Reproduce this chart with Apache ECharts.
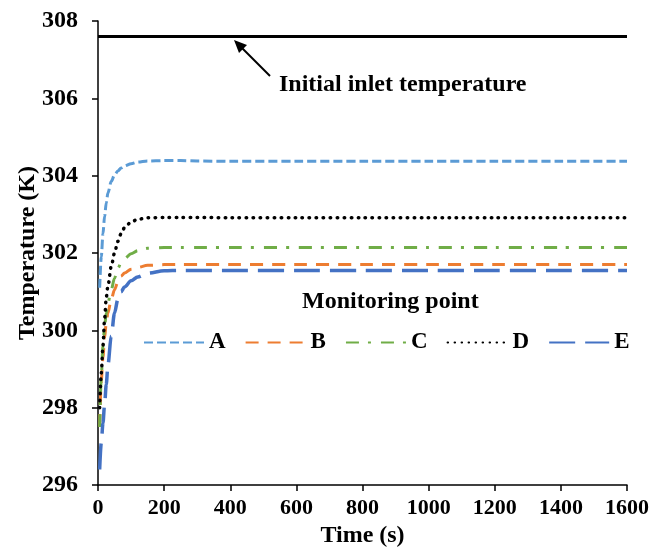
<!DOCTYPE html>
<html>
<head>
<meta charset="utf-8">
<script src="https://cdn.jsdelivr.net/npm/echarts@6/dist/echarts.min.js"></script>
<style>
  html, body { margin: 0; padding: 0; background: #fff; }
  #main { width: 655px; height: 547px; }
</style>
</head>
<body>
<div id="main"></div>
<script>
var times = [5, 10, 15, 20, 25, 30, 40, 50, 60, 70, 80, 100, 120, 150, 200, 250, 300, 400, 600, 800, 1000, 1200, 1400, 1600]
var pointA = [301.1, 301.9, 302.5, 302.95, 303.3, 303.55, 303.85, 304.02, 304.12, 304.2, 304.25, 304.31, 304.35, 304.38, 304.39, 304.39, 304.38, 304.37, 304.37, 304.37, 304.37, 304.37, 304.37, 304.37]
var pointB = [297.5, 298.7, 299.3, 299.8, 300.2, 300.45, 300.8, 301.05, 301.25, 301.4, 301.48, 301.58, 301.63, 301.68, 301.7, 301.7, 301.7, 301.7, 301.7, 301.7, 301.7, 301.7, 301.7, 301.7]
var pointC = [297.5, 298.8, 299.6, 300.1, 300.45, 300.7, 301.05, 301.35, 301.6, 301.75, 301.85, 301.98, 302.06, 302.12, 302.14, 302.14, 302.14, 302.14, 302.14, 302.14, 302.14, 302.14, 302.14, 302.14]
var pointD = [298.0, 298.9, 299.6, 300.3, 300.85, 301.15, 301.65, 302.0, 302.3, 302.5, 302.65, 302.8, 302.87, 302.91, 302.92, 302.92, 302.92, 302.91, 302.91, 302.91, 302.91, 302.91, 302.91, 302.91]
var pointE = [296.4, 297.1, 297.6, 298.1, 298.6, 299.1, 299.85, 300.45, 300.8, 301.0, 301.12, 301.28, 301.38, 301.48, 301.54, 301.55, 301.55, 301.55, 301.55, 301.55, 301.55, 301.55, 301.55, 301.55]
var inletTime = [0, 1600]
var inletTemp = [307.6, 307.6]
var names = ['A', 'B', 'C', 'D', 'E']

var font = 'Liberation Serif, Times New Roman, serif'

function pairs(xs, ys) {
  return xs.map(function (x, i) { return [x, ys[i]] })
}

function curve(name, values, color, dash, width, cap) {
  return {
    name: name,
    type: 'line',
    data: pairs(times, values),
    symbol: 'none',
    smooth: 0.3,
    smoothMonotone: 'x',
    lineStyle: { color: color, width: width, type: dash, cap: cap || 'butt' },
    itemStyle: { color: color },
  }
}

var chartDom = document.getElementById('main')
var myChart = echarts.init(chartDom)
var option

option = {
  animation: false,
  textStyle: { fontFamily: font },
  grid: { left: 98, right: 28, top: 21, bottom: 62, outerBoundsMode: 'none', containLabel: false },
  xAxis: {
    type: 'value',
    min: 0,
    max: 1600,
    interval: 200,
    name: 'Time (s)',
    nameLocation: 'middle',
    nameGap: 38,
    nameTextStyle: { fontFamily: font, fontWeight: 'bold', fontSize: 24, color: '#000' },
    axisLine: { lineStyle: { color: '#000', width: 1.5 } },
    axisTick: { length: 6, lineStyle: { color: '#000', width: 1.5 } },
    axisLabel: {
      fontFamily: font, fontWeight: 'bold', fontSize: 22, color: '#000', margin: 12,
      formatter: function (v) { return String(v) },
    },
    splitLine: { show: false },
  },
  yAxis: {
    type: 'value',
    min: 296,
    max: 308,
    interval: 2,
    name: 'Temperature (K)',
    nameLocation: 'middle',
    nameGap: 58,
    nameMoveOverlap: false,
    nameTextStyle: { fontFamily: font, fontWeight: 'bold', fontSize: 24, color: '#000' },
    axisLine: { show: true, lineStyle: { color: '#000', width: 1.5 } },
    axisTick: { show: true, length: 6, lineStyle: { color: '#000', width: 1.5 } },
    axisLabel: { fontFamily: font, fontWeight: 'bold', fontSize: 24, color: '#000', margin: 20 },
    splitLine: { show: false },
  },
  legend: {
    data: names,
    left: 138,
    top: 326,
    itemWidth: 60,
    itemHeight: 14,
    itemGap: 19,
    itemStyle: { opacity: 0 },
    textStyle: { fontFamily: font, fontWeight: 'bold', fontSize: 23, color: '#000' },
  },
  graphic: [
    {
      type: 'text',
      left: 302,
      top: 290,
      style: { text: 'Monitoring point', font: 'bold 24px ' + font, fill: '#000' },
    },
    {
      type: 'text',
      left: 279,
      top: 73,
      style: { text: 'Initial inlet temperature', font: 'bold 24px ' + font, fill: '#000' },
    },
    {
      type: 'line',
      shape: { x1: 270, y1: 76, x2: 240, y2: 46 },
      style: { stroke: '#000', lineWidth: 2 },
    },
    {
      type: 'polygon',
      shape: { points: [[234, 40], [247, 45], [239, 53]] },
      style: { fill: '#000' },
    },
  ],
  series: [
    {
      name: 'inlet',
      type: 'line',
      data: pairs(inletTime, inletTemp),
      symbol: 'none',
      lineStyle: { color: '#000', width: 3 },
    },
    curve('A', pointA, '#5B9BD5', [9, 4], 3),
    curve('B', pointB, '#ED7D31', [13, 9], 3),
    curve('C', pointC, '#70AD47', [13, 9, 3, 10], 3),
    curve('D', pointD, '#000000', [0.5, 6.5], 3.5, 'round'),
    curve('E', pointE, '#4472C4', [26, 10], 3.5),
  ],
}

option && myChart.setOption(option)
</script>
</body>
</html>
